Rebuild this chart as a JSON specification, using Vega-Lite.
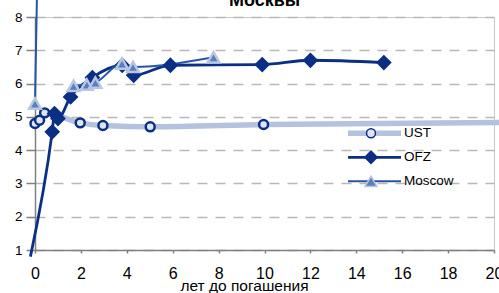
{
  "$schema": "https://vega.github.io/schema/vega-lite/v6.json",
  "width": 459,
  "height": 233,
  "autosize": {"type": "none"},
  "padding": {"left": 35, "top": 17, "right": 5, "bottom": 43},
  "background": "white",
  "config": {
    "view": {"stroke": "#c8c8c8", "strokeWidth": 1},
    "font": "Liberation Sans Narrow, Liberation Sans, Arial, sans-serif"
  },
  "title": {"text": "Москвы", "fontSize": 18, "fontWeight": "bold", "offset": 6, "dy": 43, "color": "black", "font": "Liberation Sans, Arial, sans-serif"},
  "data": {
    "values": [
      {"s": "UST", "seg": "UST", "x": 0, "y": 4.8, "pt": true},
      {"s": "UST", "seg": "UST", "x": 0.2, "y": 4.9, "pt": true},
      {"s": "UST", "seg": "UST", "x": 0.42, "y": 5.12, "pt": true},
      {"s": "UST", "seg": "UST", "x": 1.97, "y": 4.82, "pt": true},
      {"s": "UST", "seg": "UST", "x": 2.96, "y": 4.74, "pt": true},
      {"s": "UST", "seg": "UST", "x": 5.02, "y": 4.7, "pt": true},
      {"s": "UST", "seg": "UST", "x": 9.96, "y": 4.77, "pt": true},
      {"s": "UST", "seg": "UST", "x": 30, "y": 4.89, "pt": false},
      {"s": "OFZ", "seg": "OFZ", "x": -0.2, "y": 0.8, "pt": false},
      {"s": "OFZ", "seg": "OFZ", "x": 0.75, "y": 4.55, "pt": true},
      {"s": "OFZ", "seg": "OFZ", "x": 0.85, "y": 5.1, "pt": true},
      {"s": "OFZ", "seg": "OFZ", "x": 1.0, "y": 4.95, "pt": true},
      {"s": "OFZ", "seg": "OFZ", "x": 1.55, "y": 5.6, "pt": true},
      {"s": "OFZ", "seg": "OFZ", "x": 2.5, "y": 6.18, "pt": true},
      {"s": "OFZ", "seg": "OFZ", "x": 3.8, "y": 6.55, "pt": true},
      {"s": "OFZ", "seg": "OFZ", "x": 4.3, "y": 6.25, "pt": true},
      {"s": "OFZ", "seg": "OFZ", "x": 5.9, "y": 6.55, "pt": true},
      {"s": "OFZ", "seg": "OFZ", "x": 9.9, "y": 6.57, "pt": true},
      {"s": "OFZ", "seg": "OFZ", "x": 12, "y": 6.7, "pt": true},
      {"s": "OFZ", "seg": "OFZ", "x": 15.2, "y": 6.63, "pt": true},
      {"s": "Moscow", "seg": "Moscow spike", "x": 0, "y": 5.4, "pt": true},
      {"s": "Moscow", "seg": "Moscow spike", "x": 0.1, "y": 9.2, "pt": false},
      {"s": "Moscow", "seg": "Moscow", "x": 1.68, "y": 5.93, "pt": true},
      {"s": "Moscow", "seg": "Moscow", "x": 2.26, "y": 5.97, "pt": true},
      {"s": "Moscow", "seg": "Moscow", "x": 2.63, "y": 6.03, "pt": true},
      {"s": "Moscow", "seg": "Moscow", "x": 3.79, "y": 6.6, "pt": true},
      {"s": "Moscow", "seg": "Moscow", "x": 4.27, "y": 6.5, "pt": true},
      {"s": "Moscow", "seg": "Moscow", "x": 7.78, "y": 6.79, "pt": true}
    ]
  },
  "encoding": {
    "x": {
      "field": "x", "type": "quantitative",
      "scale": {"domain": [0, 20], "nice": false, "zero": false},
      "axis": {
        "values": [0, 2, 4, 6, 8, 10, 12, 14, 16, 18, 20],
        "grid": false, "labelFlush": false,
        "domainColor": "#808080", "domainWidth": 1.5,
        "tickColor": "#808080", "tickWidth": 1.5, "tickSize": 3,
        "labelFontSize": 16, "labelColor": "black", "labelPadding": 12,
        "title": "лет до погашения", "titleFontSize": 15.5, "titleFontWeight": "normal", "titleColor": "black",
        "titleX": 209, "titleY": 40, "titleBaseline": "alphabetic", "titleAlign": "center",
        "encode": {"ticks": {"update": {"y": {"value": -4}, "y2": {"value": 3}}}}
      }
    },
    "y": {
      "field": "y", "type": "quantitative",
      "scale": {"domain": [1, 8], "nice": false, "zero": false},
      "axis": {
        "values": [1, 2, 3, 4, 5, 6, 7, 8],
        "grid": true, "gridDash": [10, 8], "gridColor": "#b8b8b8", "gridWidth": 1.5,
        "domainColor": "#808080", "domainWidth": 1.5,
        "tickColor": "#808080", "tickWidth": 1.5, "tickSize": 9,
        "labelFontSize": 13.5, "labelColor": "black", "labelPadding": 4,
        "title": null
      }
    }
  },
  "layer": [
    {
      "mark": {"type": "line", "interpolate": "monotone"},
      "encoding": {
        "color": {
          "field": "s", "type": "nominal", "sort": "descending",
          "scale": {"range": ["#b3c2de", "#0a2f85", "#2755a5"]},
          "legend": {
            "orient": "none", "legendX": 310, "legendY": 105.6,
            "symbolType": "stroke", "symbolSize": 2809, "symbolOffset": 0,
            "clipHeight": 21.4, "rowPadding": 2, "padding": 0,
            "labelFontSize": 13.5, "labelOffset": 0, "labelColor": "black", "title": null
          }
        },
        "strokeWidth": {
          "field": "s", "type": "nominal", "sort": "descending",
          "scale": {"type": "ordinal", "range": [5.5, 2.8, 2]}
        },
        "detail": {"field": "seg"}
      }
    },
    {
      "transform": [{"filter": "datum.pt"}],
      "mark": {"type": "point", "filled": true, "strokeWidth": 2.5, "opacity": 1},
      "encoding": {
        "shape": {
          "field": "s", "type": "nominal", "sort": "descending",
          "scale": {"range": ["circle", "diamond", "triangle-up"]},
          "legend": {
            "orient": "none", "legendX": 329, "legendY": 105.6,
            "symbolOffset": 0, "clipHeight": 21.4, "rowPadding": 2, "padding": 0,
            "labelFontSize": 13.5, "labelOpacity": 0, "title": null
          }
        },
        "fill": {
          "field": "s", "type": "nominal", "sort": "descending",
          "scale": {"range": ["#dfe6f2", "#0a2f85", "#5a7fbe"]}
        },
        "stroke": {
          "field": "s", "type": "nominal", "sort": "descending",
          "scale": {"range": ["#0a2f85", "#0a2f85", "#b7c6e2"]}
        },
        "size": {
          "field": "s", "type": "nominal", "sort": "descending",
          "scale": {"type": "ordinal", "range": [80, 150, 140]}
        }
      }
    }
  ]
}
